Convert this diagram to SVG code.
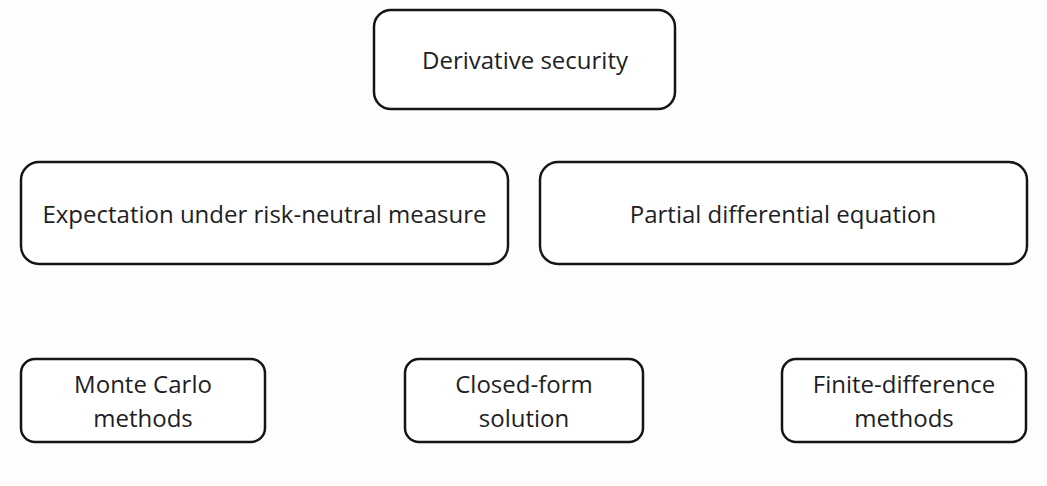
<svg xmlns="http://www.w3.org/2000/svg" width="1047" height="486" viewBox="0 0 1047 486">
<style>
.box{fill:#ffffff;stroke:#151515;stroke-width:2.5}
.t{font-family:"Open Sans","Noto Sans",sans-serif;font-size:24px;fill:#1e1e24;text-anchor:middle}
</style>
<rect width="1047" height="486" fill="#fdfdfd"/>
<g id="connectors"></g>
<g id="derivative">
<rect class="box" x="374" y="10" width="301" height="99" rx="17"/>
<text class="t" x="525" y="69">Derivative security</text>
</g>
<g id="expectation">
<rect class="box" x="21" y="162" width="487" height="102" rx="18"/>
<text class="t" x="264.5" y="223">Expectation under risk-neutral measure</text>
</g>
<g id="pde">
<rect class="box" x="540" y="162" width="487" height="102" rx="18"/>
<text class="t" x="783" y="223">Partial differential equation</text>
</g>
<g id="montecarlo">
<rect class="box" x="21" y="359" width="244" height="83" rx="14"/>
<text class="t" x="143" y="393">Monte Carlo</text>
<text class="t" x="143" y="427">methods</text>
</g>
<g id="closedform">
<rect class="box" x="405" y="359" width="238" height="83" rx="14"/>
<text class="t" x="524" y="393">Closed-form</text>
<text class="t" x="524" y="427">solution</text>
</g>
<g id="finitediff">
<rect class="box" x="782" y="359" width="244" height="83" rx="14"/>
<text class="t" x="904" y="393">Finite-difference</text>
<text class="t" x="904" y="427">methods</text>
</g>
</svg>
